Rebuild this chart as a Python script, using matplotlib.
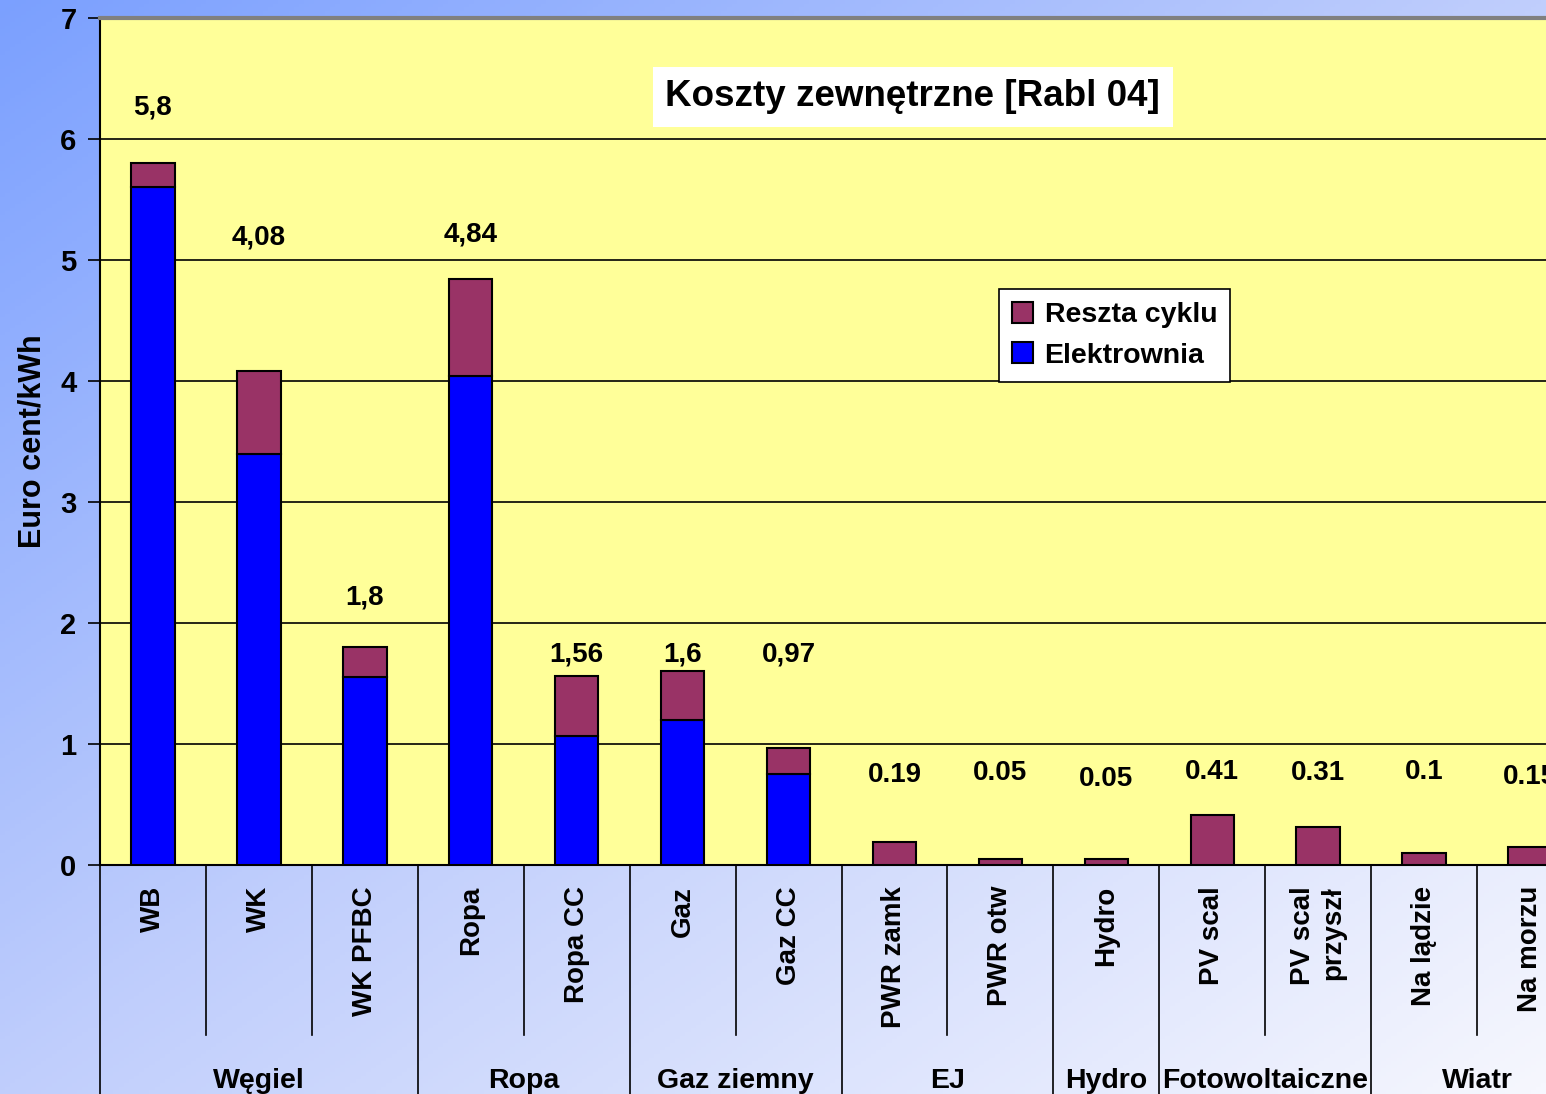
import numpy as np
import matplotlib.pyplot as plt
from matplotlib.colors import LinearSegmentedColormap

plt.rcParams['font.family'] = ['Liberation Sans', 'DejaVu Sans']
plt.rcParams['font.weight'] = 'bold'

# kategorie i grupy
kategorie = ["WB", "WK", "WK PFBC", "Ropa", "Ropa CC", "Gaz", "Gaz CC",
             "PWR zamk", "PWR otw", "Hydro", "PV scal", "PV scal\nprzyszł",
             "Na lądzie", "Na morzu"]
grupy = ["Węgiel", "Ropa", "Gaz ziemny", "EJ", "Hydro", "Fotowoltaiczne", "Wiatr"]
grupy_liczba = [3, 2, 2, 2, 1, 2, 2]

# koszty calkowite i czesc elektrowni [Euro cent/kWh]
razem = [5.8, 4.08, 1.8, 4.84, 1.56, 1.6, 0.97, 0.19, 0.05, 0.05, 0.41, 0.31, 0.1, 0.15]
elektrownia = [5.6, 3.4, 1.55, 4.04, 1.07, 1.2, 0.75, 0, 0, 0, 0, 0, 0, 0]
reszta = [r - e for r, e in zip(razem, elektrownia)]
etykiety = ["5,8", "4,08", "1,8", "4,84", "1,56", "1,6", "0,97",
            "0.19", "0.05", "0.05", "0.41", "0.31", "0.1", "0.15"]
etykiety_y = [6.26, 5.19, 2.21, 5.21, 1.74, 1.74, 1.74,
              0.74, 0.76, 0.71, 0.77, 0.76, 0.77, 0.73]

W, H = 1546, 1094
fig = plt.figure(figsize=(W / 100, H / 100), dpi=100)

# tlo z gradientem
bg = fig.add_axes([0, 0, 1, 1], zorder=-10)
cmap = LinearSegmentedColormap.from_list("tlo", ["#7ba0ff", "#c0cefc", "#f6f7fe"])
gx, gy = np.meshgrid(np.linspace(0, 1, 300), np.linspace(0, 1, 300))
bg.imshow((gx + gy) / 2, cmap=cmap, aspect='auto', extent=[0, 1, 1, 0])
bg.axis('off')

ax = fig.add_axes([100 / W, 229 / H, 1483 / W, 847 / H])
ax.set_facecolor("#ffff99")
x = np.arange(len(kategorie))
szer = 0.41
ax.bar(x, elektrownia, szer, color="#0000ff", edgecolor="black", linewidth=1.5,
       label="Elektrownia", zorder=3)
ax.bar(x, reszta, szer, bottom=elektrownia, color="#993366", edgecolor="black",
       linewidth=1.5, label="Reszta cyklu", zorder=3)

for xi, t, ty in zip(x, etykiety, etykiety_y):
    ax.text(xi, ty, t, ha='center', va='center', fontsize=20, fontweight='bold')

ax.set_xlim(-0.5, len(kategorie) - 0.5)
ax.set_ylim(0, 7)
ax.set_yticks(range(8))
ax.yaxis.grid(True, color='black', linewidth=1.2, zorder=0)
ax.set_axisbelow(True)
ax.tick_params(axis='y', labelsize=21, length=9, width=1.2, pad=8)
ax.tick_params(axis='x', bottom=False, labelbottom=False)
for lab in ax.get_yticklabels():
    lab.set_fontweight('bold')
ax.spines['right'].set_visible(False)
ax.spines['top'].set_color('#808080')
ax.spines['top'].set_linewidth(3)
ax.spines['left'].set_linewidth(1.5)
ax.spines['bottom'].set_linewidth(1.5)
ax.set_ylabel("Euro cent/kWh", fontsize=22, fontweight='bold', labelpad=9)

# dwupoziomowa os kategorii
tr = ax.get_xaxis_transform()
dol_kat = -170 / 847
dol = -230 / 847
for xi, k in zip(x, kategorie):
    ax.text(xi, -21 / 847, k, transform=tr, rotation=90, ha='center', va='top',
            multialignment='right', fontsize=20, fontweight='bold', clip_on=False)
granice = np.cumsum([0] + grupy_liczba) - 0.5
for i in range(len(kategorie) + 1):
    b = i - 0.5
    y1 = dol if np.isclose(granice, b).any() else dol_kat
    ax.plot([b, b], [0, y1], transform=tr, color='black', linewidth=1.2, clip_on=False)
for g, a, b in zip(grupy, granice[:-1], granice[1:]):
    ax.text((a + b) / 2, -216 / 847, g, transform=tr, ha='center', va='center',
            fontsize=20.5, fontweight='bold', clip_on=False)

ax.text(0.548, 0.907, "Koszty zewnętrzne [Rabl 04]", transform=ax.transAxes,
        ha='center', va='center', fontsize=26.5, fontweight='bold', zorder=5,
        bbox=dict(facecolor='white', edgecolor='none', pad=9))

h, l = ax.get_legend_handles_labels()
leg = ax.legend(h[::-1], l[::-1], loc='upper left',
                bbox_to_anchor=(899 / 1483, 1 - 271 / 847), borderaxespad=0,
                prop={'weight': 'bold', 'size': 20.5}, fancybox=False,
                framealpha=1, edgecolor='black', handlelength=0.75, handleheight=0.75,
                handletextpad=0.4, borderpad=0.45, labelspacing=0.5)
leg.get_frame().set_linewidth(1.2)

fig.savefig("out.png", dpi=100)
